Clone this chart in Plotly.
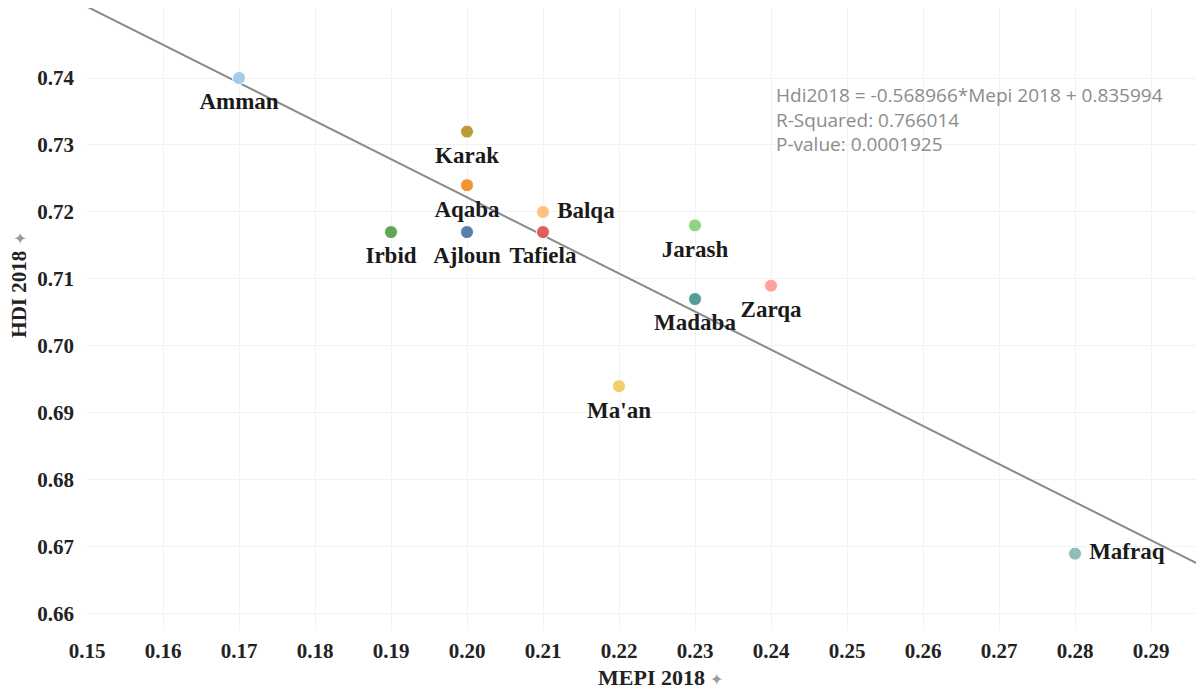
import plotly.graph_objects as go

# ---- data ----
regions = ["Ajloun", "Amman", "Aqaba", "Balqa", "Irbid", "Jarash",
           "Karak", "Ma'an", "Madaba", "Mafraq", "Tafiela", "Zarqa"]
mepi_2018 = [0.20, 0.17, 0.20, 0.21, 0.19, 0.23, 0.20, 0.22, 0.23, 0.28, 0.21, 0.24]
hdi_2018 = [0.717, 0.740, 0.724, 0.720, 0.717, 0.718, 0.732, 0.694, 0.707, 0.669, 0.717, 0.709]
x_ticks = [0.15, 0.16, 0.17, 0.18, 0.19, 0.20, 0.21, 0.22, 0.23, 0.24, 0.25, 0.26, 0.27, 0.28, 0.29]
y_ticks = [0.66, 0.67, 0.68, 0.69, 0.70, 0.71, 0.72, 0.73, 0.74]
trend_slope = -0.568966
trend_intercept = 0.835994
stats_lines = ["Hdi2018 = -0.568966*Mepi 2018 + 0.835994",
               "R-Squared: 0.766014",
               "P-value: 0.0001925"]

# ---- styles ----
colors = ["#4e79a7", "#a0cbe8", "#f28e2b", "#ffbe7d", "#59a14f", "#8cd17d",
          "#b6992d", "#f1ce63", "#499894", "#86bcb6", "#e15759", "#ff9d9a"]
label_pos = ["bottom center", "bottom center", "bottom center", "middle right",
             "bottom center", "bottom center", "bottom center", "bottom center",
             "bottom center", "middle right", "bottom center", "bottom center"]

X_RANGE = [0.15, 0.29697]
Y_RANGE = [0.6576, 0.75045]

serif = "Liberation Serif"

fig = go.Figure()

fig.add_trace(go.Scatter(
    x=X_RANGE,
    y=[trend_slope * v + trend_intercept for v in X_RANGE],
    mode="lines",
    line=dict(color="#8a8a8a", width=2),
    hoverinfo="skip",
    showlegend=False,
))

# labels (offset by an invisible, larger marker)
fig.add_trace(go.Scatter(
    x=mepi_2018,
    y=hdi_2018,
    mode="markers+text",
    text=regions,
    textposition=label_pos,
    textfont=dict(family=serif, size=23, color="#1a1a1a", weight="bold"),
    marker=dict(size=21, color="rgba(0,0,0,0)"),
    hoverinfo="skip",
    showlegend=False,
))

fig.add_trace(go.Scatter(
    x=mepi_2018,
    y=hdi_2018,
    mode="markers",
    text=regions,
    marker=dict(size=13, color=colors, opacity=0.95, line=dict(color="white", width=1)),
    showlegend=False,
))

axis_font = dict(family=serif, size=21, color="#222222", weight="bold")

fig.update_layout(
    width=1196,
    height=685,
    margin=dict(l=79, r=0, t=0, b=63),
    paper_bgcolor="white",
    plot_bgcolor="white",
    xaxis=dict(
        range=X_RANGE,
        tickvals=x_ticks,
        ticktext=[f"{v:.2f}" for v in x_ticks],
        tickfont=axis_font,
        showgrid=True,
        gridcolor="#f2f2f2",
        gridwidth=1,
        zeroline=False,
        showline=False,
        ticks="",
        ticklabelstandoff=6,
        automargin=False,
    ),
    yaxis=dict(
        range=Y_RANGE,
        tickvals=y_ticks,
        ticktext=[f"{v:.2f}" for v in y_ticks],
        tickfont=axis_font,
        showgrid=True,
        gridcolor="#f2f2f2",
        gridwidth=1,
        zeroline=False,
        showline=False,
        ticks="",
        ticklabelstandoff=12,
        automargin=False,
    ),
    annotations=[
        dict(
            text="<br>".join(stats_lines),
            xref="paper", yref="paper",
            x=0.615, y=0.884,
            xanchor="left", yanchor="top",
            align="left",
            showarrow=False,
            font=dict(family="Open Sans", size=19, color="#8c8c8c"),
        ),
        dict(
            text="<b>HDI 2018</b> <span style='color:#9a9a9a;font-size:16px'>✦</span>",
            xref="paper", yref="paper",
            x=-0.061, y=0.555,
            xanchor="center", yanchor="middle",
            textangle=-90,
            showarrow=False,
            font=dict(family=serif, size=21, color="#222222"),
        ),
        dict(
            text="<b>MEPI 2018</b> <span style='color:#9a9a9a;font-size:16px'>✦</span>",
            xref="paper", yref="paper",
            x=0.513, y=-0.077,
            xanchor="center", yanchor="middle",
            showarrow=False,
            font=dict(family=serif, size=22, color="#222222"),
        ),
    ],
)

fig.write_html("out.html")
